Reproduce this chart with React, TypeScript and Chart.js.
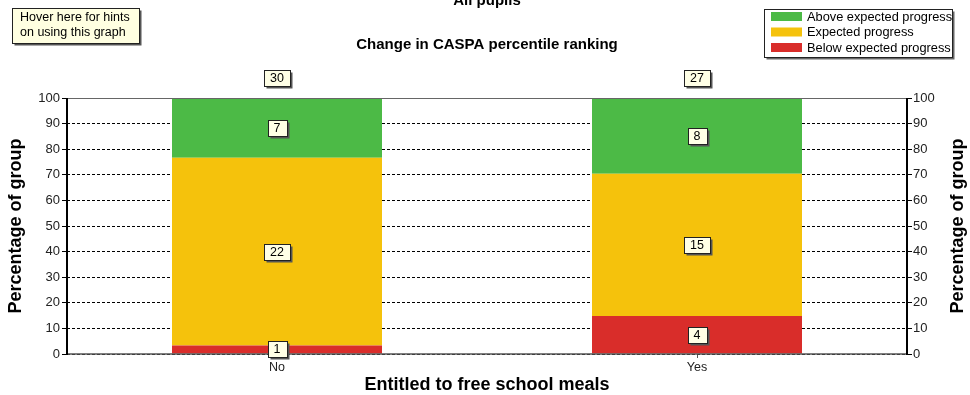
import React, { useEffect, useRef } from 'react';
import { Chart, registerables } from 'chart.js';
Chart.register(...registerables);

const categories = ['No', 'Yes'];
const belowCounts = [1, 4];
const expectedCounts = [22, 15];
const aboveCounts = [7, 8];
const seriesNames = ['Below expected progress', 'Expected progress', 'Above expected progress'];
const seriesColors = ['#d92d2a', '#f5c20c', '#4cba46'];
const mainTitle = 'All pupils';
const subTitle = 'Change in CASPA percentile ranking';
const yTitle = 'Percentage of group';
const xTitle = 'Entitled to free school meals';
const hintLines = ['Hover here for hints', 'on using this graph'];

const FONT = "'Liberation Sans', Arial, sans-serif";

const totals = categories.map((_, i) => belowCounts[i] + expectedCounts[i] + aboveCounts[i]);
const countSeries = [belowCounts, expectedCounts, aboveCounts];
const pct = (arr: number[]) => arr.map((v, i) => (v / totals[i]) * 100);

function drawBox(ctx: CanvasRenderingContext2D, cx: number, cy: number, text: string) {
  ctx.font = `12.5px ${FONT}`;
  const w = Math.round(ctx.measureText(text).width + 12);
  const h = 16;
  const x = Math.round(cx - w / 2) + 0.5;
  const y = Math.round(cy - h / 2) + 0.5;
  ctx.fillStyle = '#555';
  ctx.fillRect(x + 2, y + 2, w, h);
  ctx.fillStyle = '#ffffe6';
  ctx.fillRect(x, y, w, h);
  ctx.strokeStyle = '#222';
  ctx.lineWidth = 1;
  ctx.strokeRect(x, y, w, h);
  ctx.fillStyle = '#000';
  ctx.textAlign = 'center';
  ctx.textBaseline = 'middle';
  ctx.fillText(text, cx, y + h / 2 + 0.5);
}

const decorPlugin = {
  id: 'decor',
  afterDatasetsDraw(chart: any) {
    const ctx: CanvasRenderingContext2D = chart.ctx;
    const ca = chart.chartArea;
    ctx.save();
    // axis lines
    ctx.strokeStyle = '#666';
    ctx.lineWidth = 1;
    ctx.beginPath();
    ctx.moveTo(ca.left, ca.top + 0.5);
    ctx.lineTo(ca.right, ca.top + 0.5);
    ctx.stroke();
    ctx.strokeStyle = '#555';
    ctx.lineWidth = 1.5;
    ctx.beginPath();
    ctx.moveTo(ca.left, ca.bottom);
    ctx.lineTo(ca.right, ca.bottom);
    ctx.stroke();
    ctx.strokeStyle = '#000';
    ctx.lineWidth = 2;
    ctx.beginPath();
    ctx.moveTo(ca.left, ca.top);
    ctx.lineTo(ca.left, ca.bottom + 1);
    ctx.moveTo(ca.right, ca.top);
    ctx.lineTo(ca.right, ca.bottom + 1);
    ctx.stroke();

    // segment count boxes
    for (let d = 0; d < countSeries.length; d++) {
      const meta = chart.getDatasetMeta(d);
      meta.data.forEach((el: any, i: number) => {
        const cy = (el.y + el.base) / 2;
        drawBox(ctx, el.x, cy, String(countSeries[d][i]));
      });
    }
    // totals
    const meta0 = chart.getDatasetMeta(0);
    meta0.data.forEach((el: any, i: number) => {
      drawBox(ctx, el.x, ca.top - 20, String(totals[i]));
    });

    // titles
    ctx.fillStyle = '#000';
    ctx.textAlign = 'center';
    ctx.font = `bold 15px ${FONT}`;
    ctx.textBaseline = 'alphabetic';
    const cx = (ca.left + ca.right) / 2;
    ctx.fillText(mainTitle, cx, 5);
    ctx.textBaseline = 'middle';
    ctx.fillText(subTitle, cx, 45);

    // axis titles
    ctx.font = `bold 18px ${FONT}`;
    ctx.fillText(xTitle, cx, 385);
    const cyA = (ca.top + ca.bottom) / 2;
    ctx.save();
    ctx.translate(16, cyA);
    ctx.rotate(-Math.PI / 2);
    ctx.fillText(yTitle, 0, 0);
    ctx.restore();
    ctx.save();
    ctx.translate(958, cyA);
    ctx.rotate(-Math.PI / 2);
    ctx.fillText(yTitle, 0, 0);
    ctx.restore();

    // hint box
    ctx.fillStyle = '#555';
    ctx.fillRect(14.5, 10.5, 127, 35);
    ctx.fillStyle = '#ffffe1';
    ctx.fillRect(12.5, 8.5, 127, 35);
    ctx.strokeStyle = '#222';
    ctx.lineWidth = 1;
    ctx.strokeRect(12.5, 8.5, 127, 35);
    ctx.fillStyle = '#000';
    ctx.font = `12.5px ${FONT}`;
    ctx.textAlign = 'left';
    ctx.fillText(hintLines[0], 20, 18);
    ctx.fillText(hintLines[1], 20, 33);

    // legend
    ctx.fillStyle = '#666';
    ctx.fillRect(766.5, 11.5, 188, 48);
    ctx.fillStyle = '#fff';
    ctx.fillRect(764.5, 9.5, 188, 48);
    ctx.strokeStyle = '#222';
    ctx.strokeRect(764.5, 9.5, 188, 48);
    const order = [2, 1, 0];
    order.forEach((s, r) => {
      const y = 12 + r * 15.5;
      ctx.fillStyle = seriesColors[s];
      ctx.fillRect(771, y, 31, 9);
      ctx.fillStyle = '#000';
      ctx.font = `12.8px ${FONT}`;
      ctx.textAlign = 'left';
      ctx.textBaseline = 'middle';
      ctx.fillText(seriesNames[s], 807, y + 5);
    });
    ctx.restore();
  },
};

export default function App() {
  const ref = useRef<HTMLCanvasElement>(null);
  useEffect(() => {
    if (!ref.current) return;
    const chart = new Chart(ref.current, {
      type: 'bar',
      data: {
        labels: categories,
        datasets: countSeries.map((arr, i) => ({
          label: seriesNames[i],
          data: pct(arr),
          backgroundColor: seriesColors[i],
          borderWidth: 0,
          barPercentage: 0.5,
          categoryPercentage: 1.0,
          yAxisID: 'y',
        })),
      },
      options: {
        responsive: false,
        animation: false,
        devicePixelRatio: 1,
        layout: { padding: { top: 98, left: 0, right: 0, bottom: 0 } },
        plugins: { legend: { display: false }, tooltip: { enabled: false }, title: { display: false } },
        scales: {
          x: {
            stacked: true,
            grid: { display: true, drawOnChartArea: false, drawTicks: true, tickLength: 4, offset: false, color: '#555' },
            border: { display: false },
            ticks: { color: '#222', font: { family: FONT, size: 12.5 }, padding: 2 },
            afterFit: (s: any) => { s.height = 41; },
          },
          y: {
            stacked: true,
            position: 'left',
            min: 0,
            max: 100,
            ticks: { stepSize: 10, color: '#222', font: { family: FONT, size: 13 }, padding: 2 },
            grid: { color: '#000', lineWidth: 1, tickLength: 5, tickColor: '#000' },
            border: { display: false, dash: [3, 2] },
            afterFit: (s: any) => { s.width = 67; },
          },
          y2: {
            position: 'right',
            min: 0,
            max: 100,
            ticks: { stepSize: 10, color: '#222', font: { family: FONT, size: 13 }, padding: 1 },
            grid: { drawOnChartArea: false, tickLength: 5, color: '#000' },
            border: { display: false },
            afterFit: (s: any) => { s.width = 63; },
          },
        },
      },
      plugins: [decorPlugin],
    } as any);
    return () => chart.destroy();
  }, []);
  return (
    <div style={{ position: 'fixed', left: 0, top: 0, width: 970, height: 395, background: '#fff' }}>
      <canvas ref={ref} width={970} height={395} />
    </div>
  );
}
